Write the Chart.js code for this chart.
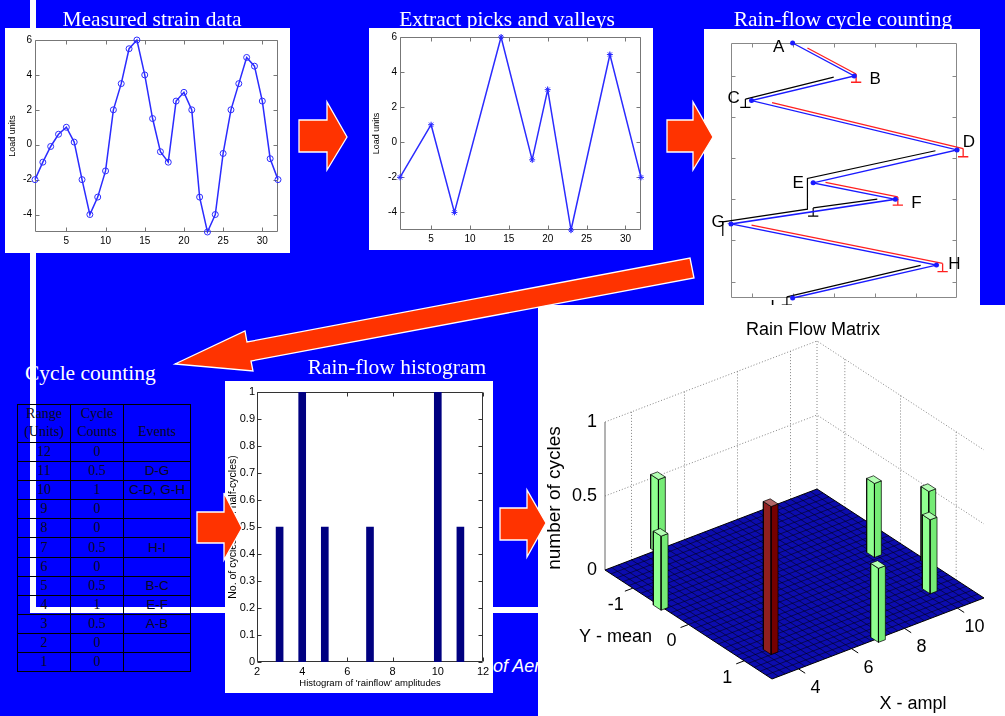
<!DOCTYPE html>
<html><head><meta charset="utf-8"><title>Rain-flow counting</title>
<script src="https://cdn.jsdelivr.net/npm/chart.js@4.4.1/dist/chart.umd.min.js"></script>
<style>
html,body{margin:0;padding:0}
body{width:1005px;height:716px;background:#0000ff;position:relative;overflow:hidden}
.blk{position:absolute;background:#fff}
.ttl{position:absolute;color:#fff;font-family:'Liberation Serif','Times New Roman',serif;font-size:21.5px;line-height:21.5px;white-space:nowrap}
.ctr{width:400px;text-align:center}
canvas{position:absolute;left:0;top:0}
.tl{position:absolute;background:#000}
.tc{position:absolute;text-align:center;font-family:'Liberation Serif','Times New Roman',serif;font-size:14px;color:#0a0a20;white-space:nowrap;overflow:hidden}
.tc.ev{font-family:'Liberation Sans Narrow','Liberation Sans',Arial,sans-serif;font-size:13.5px}
#aer{position:absolute;left:493px;top:657px;color:#fff;font:italic 18px 'Liberation Sans',Arial,sans-serif;line-height:18px;white-space:nowrap}
svg{position:absolute;left:0;top:0}
</style></head>
<body>
<div class="blk" style="left:30px;top:0;width:6px;height:613px"></div>
<div class="blk" style="left:30px;top:607px;width:508px;height:6px"></div>
<div id="aer">of Aerospace</div>

<div class="blk" style="left:5px;top:28px;width:285px;height:225px"><canvas id="c1" width="285" height="225"></canvas></div>
<div class="blk" style="left:369px;top:28px;width:284px;height:222px"><canvas id="c2" width="284" height="222"></canvas></div>
<div class="blk" style="left:704px;top:29px;width:276px;height:276px"><canvas id="c3" width="276" height="276"></canvas></div>
<div class="blk" style="left:538px;top:305px;width:467px;height:411px"><canvas id="c5" width="467" height="411"></canvas></div>
<div class="blk" style="left:225px;top:381px;width:268px;height:312px"><canvas id="c4" width="268" height="312"></canvas></div>

<div class="ttl ctr" style="left:-48px;top:9px">Measured strain data</div>
<div class="ttl ctr" style="left:307px;top:9px">Extract picks and valleys</div>
<div class="ttl ctr" style="left:643px;top:9px">Rain-flow cycle counting</div>
<div class="ttl" style="left:25px;top:363px">Cycle counting</div>
<div class="ttl ctr" style="left:197px;top:357px">Rain-flow histogram</div>

<div id="cyc"></div>

<svg width="1005" height="716" viewBox="0 0 1005 716">
<g fill="#ff3300" stroke="#ffffff" stroke-width="1.3" stroke-linejoin="miter">
<polygon points="299,120 327,120 327,102 347,137 327,170 327,152 299,152"/>
<polygon points="667,120 693,120 693,102 713,137 693,170 693,152 667,152"/>
<polygon points="197,512 224,512 224,493 242,528 224,560 224,543 197,543"/>
<polygon points="500,508 527,508 527,490 546,523 527,557 527,540 500,540"/>
<polygon points="690,258 694,278 251,361 253,371 175,364 245,331 247,342"/>
</g></svg>

<script>
// ================= DATA =================
const strainX = [1,2,3,4,5,6,7,8,9,10,11,12,13,14,15,16,17,18,19,20,21,22,23,24,25,26,27,28,29,30,31,32];
const strainY = [-2,-1,-0.1,0.6,1,0.15,-2,-4,-3,-1.5,2,3.5,5.5,6,4,1.5,-0.4,-1,2.5,3,2,-3,-5,-4,-0.5,2,3.5,5,4.5,2.5,-0.8,-2];
const peakX = [1,5,8,14,18,20,23,28,32];
const peakY = [-2,1,-4,6,-1,3,-5,5,-2];
const rfNames = ['A','B','C','D','E','F','G','H','I'];
const timeTicks = [5,10,15,20,25,30];
const loadTicks = [-4,-2,0,2,4,6];
const rfLoadTicks = [-4,-2,0,2,4];

const tableHeader = [['Range','(Units)'],['Cycle','Counts'],['','Events']];
const tableRange  = [12,11,10,9,8,7,6,5,4,3,2,1];
const tableCycles = [0,0.5,1,0,0,0.5,0,0.5,1,0.5,0,0];
const tableEvents = ['','D-G','C-D, G-H','','','H-I','','B-C','E-F','A-B','',''];

const histXTicks = [2,4,6,8,10,12];
const histYTicks = [0,0.1,0.2,0.3,0.4,0.5,0.6,0.7,0.8,0.9,1];

const rfmAmpl   = [3,5,10,11,10,7,4];
const rfmMean   = [-0.5,-1.5,1,0.5,0,1.5,1];
const rfmCycles = [0.5,0.5,0.5,0.5,0.5,0.5,1];
const rfmAmplRange = [3,11];
const rfmMeanRange = [-1.5,1.5];
const rfmAmplTicks = [4,6,8,10];
const rfmMeanTicks = [-1,0,1];
const rfmCycleTicks = [0,0.5,1];

// ================= SETUP =================
Chart.defaults.font.family = "'Liberation Sans', Arial, sans-serif";
Chart.defaults.color = '#000';
Chart.defaults.animation = false;
Chart.defaults.plugins.legend.display = false;
Chart.defaults.plugins.tooltip.enabled = false;
const GAP = {x:null, y:null};

const matlabBox = {
  id:'matlabBox',
  beforeDatasetsDraw(chart, args, o){
    if (!o || !o.on) return;
    const {ctx, chartArea:a} = chart;
    const L = o.len || 4;
    const l = Math.round(a.left)+0.5, r = Math.round(a.right)-0.5, t = Math.round(a.top)+0.5, b = Math.round(a.bottom)-0.5;
    const xs = chart.scales.x, ys = chart.scales.y;
    ctx.save(); ctx.strokeStyle = o.color || '#666'; ctx.lineWidth = 1;
    ctx.beginPath(); ctx.rect(l, t, r-l, b-t);
    xs.ticks.forEach(tk => { const p = Math.round(xs.getPixelForValue(tk.value))+0.5; ctx.moveTo(p,b); ctx.lineTo(p,b-L); ctx.moveTo(p,t); ctx.lineTo(p,t+L); });
    ys.ticks.forEach(tk => { const p = Math.round(ys.getPixelForValue(tk.value))+0.5; ctx.moveTo(l,p); ctx.lineTo(l+L,p); ctx.moveTo(r,p); ctx.lineTo(r-L,p); });
    ctx.stroke(); ctx.restore();
  }
};
Chart.register(matlabBox);

function mscale(ticksArr, min, max, o){
  o = o || {};
  return {
    type:'linear', min:min, max:max, reverse:!!o.reverse, offset:false,
    grid:{display:false, drawTicks:false},
    border:{display:false},
    afterBuildTicks: s => { s.ticks = ticksArr.map(v => ({value:v})); },
    afterFit: s => { if (o.size != null) { if (s.isHorizontal()) s.height = o.size; else s.width = o.size; } },
    ticks:{display:o.labels !== false, autoSkip:false, maxRotation:0, minRotation:0, padding:(o.pad != null ? o.pad : 3), color:'#000', font:{size:o.fs || 10}, callback: v => String(v)},
    title: o.title ? {display:true, text:o.title, color:'#000', font:{size:o.tfs || 9}, padding:o.tpad || {top:2, bottom:0}} : {display:false}
  };
}

// ----- Panel 1: measured strain -----
new Chart(document.getElementById('c1'), {
  type:'scatter',
  data:{datasets:[{data:strainX.map((x,i)=>({x:x, y:strainY[i]})), showLine:true, borderColor:'#2b2bff', borderWidth:1.5,
    pointStyle:'circle', pointRadius:3, pointBorderColor:'#2b2bff', pointBackgroundColor:'rgba(255,255,255,0)', pointBorderWidth:1, clip:false}]},
  options:{responsive:false, layout:{padding:{left:0, top:12, right:12, bottom:0}},
    scales:{x:mscale(timeTicks,1,32,{size:21}), y:mscale(loadTicks,-5,6,{size:30, title:'Load units'})},
    plugins:{matlabBox:{on:true, color:'#777'}}}
});

// ----- Panel 2: peaks & valleys -----
new Chart(document.getElementById('c2'), {
  type:'scatter',
  data:{datasets:[{data:peakX.map((x,i)=>({x:x, y:peakY[i]})), showLine:true, borderColor:'#2b2bff', borderWidth:1.5,
    pointStyle:'star', pointRadius:3, pointBorderColor:'#2b2bff', pointBorderWidth:1, clip:false}]},
  options:{responsive:false, layout:{padding:{left:0, top:9, right:12, bottom:0}},
    scales:{x:mscale(timeTicks,1,32,{size:20}), y:mscale(loadTicks,-5,6,{size:31, title:'Load units'})},
    plugins:{matlabBox:{on:true, color:'#777'}}}
});

// ----- Panel 3: rain-flow cycle counting -----
const rfPts = peakX.map((t,i)=>({x:peakY[i], y:t}));
function along(i,j,f,off){ return {x:peakY[i]+(peakY[j]-peakY[i])*f, y:peakX[i]+(peakX[j]-peakX[i])*f+off}; }
function stopper(p){ return [{x:p.x,y:p.y},{x:p.x,y:p.y+1.0},GAP,{x:p.x-0.25,y:p.y+1.0},{x:p.x+0.25,y:p.y+1.0},GAP]; }
const redSpec = [[0,1,0.24],[2,3,0.1],[4,5,0.15],[6,7,0.1]];
const red = [], redStops = [];
redSpec.forEach(([i,j,f0]) => { const a = along(i,j,f0,-0.35), b = along(i,j,1.03,-0.35); red.push(a,b,GAP); redStops.push(...stopper(b)); });
const blk = [], blkStops = [];
let rfArrow = [];
(function(){
  let a = along(1,2,0.2,-0.45), b = along(1,2,1.06,-0.36); blk.push(a,b,GAP); blkStops.push(...stopper(b));
  a = along(3,4,0.15,-0.5); const corner = along(3,4,1.04,-0.7);
  const fE = (corner.x-peakY[5])/(peakY[6]-peakY[5]);
  const drop = {x:corner.x, y:along(5,6,fE,-0.4).y};
  const gEnd = along(5,6,1.05,-0.4);
  blk.push(a,corner,drop,gEnd,GAP);
  rfArrow = [gEnd, {x:gEnd.x, y:gEnd.y+1.7}];
  a = along(5,6,0.11,-0.35); b = along(5,6,0.5,-0.45); blk.push(a,b,GAP); blkStops.push(...stopper(b));
  a = along(7,8,0.11,-0.4); b = along(7,8,1.04,-0.3); blk.push(a,b,GAP); blkStops.push(...stopper(b));
})();
const rfLabelOffsets = [[-14,4],[21,3],[-18,-2],[12,-8],[-15,0],[21,4],[-13,-2],[18,-1],[-20,9]];
const rfLabels = {id:'rfLabels', afterDatasetsDraw(chart){
  const {ctx} = chart, sx = chart.scales.x, sy = chart.scales.y;
  ctx.save(); ctx.fillStyle = '#000'; ctx.font = "17px 'Liberation Sans', Arial, sans-serif";
  ctx.textAlign = 'center'; ctx.textBaseline = 'middle';
  rfNames.forEach((n,i) => { ctx.fillText(n, sx.getPixelForValue(peakY[i]) + rfLabelOffsets[i][0], sy.getPixelForValue(peakX[i]) + rfLabelOffsets[i][1]); });
  ctx.restore();
}};
function ln(data, color, w, extra){ return Object.assign({data:data, showLine:true, borderColor:color, borderWidth:w, pointRadius:0, clip:false}, extra || {}); }
new Chart(document.getElementById('c3'), {
  type:'scatter',
  data:{datasets:[
    ln(rfPts, '#1a1aff', 1.4, {pointRadius:1.8, pointBackgroundColor:'#1a1aff', pointBorderColor:'#1a1aff'}),
    ln(red, '#ff2020', 1.3), ln(redStops, '#ff2020', 1.3),
    ln(blk, '#000', 1.2), ln(blkStops, '#000', 1.2),
    ln(rfArrow, '#000', 1.2, {pointRadius:[0,3.5], pointStyle:'triangle', pointRotation:180, pointBackgroundColor:'#000', pointBorderColor:'#000'})
  ]},
  options:{responsive:false, layout:{padding:{left:27, top:14, right:23, bottom:7}},
    scales:{x:mscale(rfLoadTicks,-5,6,{size:0, labels:false}), y:mscale(timeTicks,1,32,{size:0, labels:false, reverse:true})},
    plugins:{matlabBox:{on:true, color:'#888'}}},
  plugins:[rfLabels]
});

// ----- Table (absolute cells + crisp grid lines) -----
(function(){
  const host = document.getElementById('cyc');
  const colX = [17,70,123,190], top = 404, headBottom = 442, bottom = 671;
  const nR = tableRange.length, rowH = (bottom - headBottom) / nR;
  const rowY = [top, headBottom]; for (let i=1;i<=nR;i++) rowY.push(Math.round(headBottom + i*rowH));
  let h = '';
  rowY.forEach(y => { h += '<div class="tl" style="left:'+colX[0]+'px;top:'+y+'px;width:'+(colX[3]-colX[0]+1)+'px;height:1px"></div>'; });
  colX.forEach(x => { h += '<div class="tl" style="left:'+x+'px;top:'+top+'px;width:1px;height:'+(bottom-top+1)+'px"></div>'; });
  const cell = (c, y0, y1, txt, cls, lh) => '<div class="tc '+(cls||'')+'" style="left:'+(colX[c]+1)+'px;width:'+(colX[c+1]-colX[c]-1)+'px;top:'+(y0+1)+'px;height:'+(y1-y0-1)+'px;line-height:'+(lh||(y1-y0-1))+'px">'+txt+'</div>';
  tableHeader.forEach((lines,c) => { h += cell(c, top, headBottom, lines.join('<br>'), '', 18); });
  tableRange.forEach((r,i) => {
    const y0 = rowY[i+1], y1 = rowY[i+2];
    h += cell(0, y0, y1, String(r)); h += cell(1, y0, y1, String(tableCycles[i])); h += cell(2, y0, y1, tableEvents[i], 'ev');
  });
  host.innerHTML = h;
})();

// ----- Histogram -----
const histData = tableRange.map((r,i)=>({x:r, y:tableCycles[i]})).filter(p=>p.y>0).sort((a,b)=>a.x-b.x);
new Chart(document.getElementById('c4'), {
  type:'bar',
  data:{datasets:[{data:histData, backgroundColor:'#000080', barThickness:7, borderWidth:0}]},
  options:{responsive:false, layout:{padding:{left:0, top:11, right:10, bottom:0}},
    scales:{
      x:mscale(histXTicks,2,12,{size:31, fs:11, title:"Histogram of 'rainflow' amplitudes", tfs:9.5, tpad:{top:1,bottom:4}}),
      y:mscale(histYTicks,0,1,{size:32, fs:11, pad:2, title:'No. of cycles (from half-cycles)', tfs:10.5})
    },
    plugins:{matlabBox:{on:true, color:'#333'}}}
});

// ----- 3D Rain Flow Matrix -----
const RFM = {o:{x:67, y:265}, ex:{x:26.5, y:-10.125}, ey:{x:55.67, y:36.33}, ez:148};
function proj(X,Y,Z){ const a = X-rfmAmplRange[0], b = Y-rfmMeanRange[0]; return {x:RFM.o.x + a*RFM.ex.x + b*RFM.ey.x, y:RFM.o.y + a*RFM.ex.y + b*RFM.ey.y - Z*RFM.ez}; }
function jet(v){ const c = t => Math.max(0, Math.min(1, t)); return [c(1.5-Math.abs(4*v-3)), c(1.5-Math.abs(4*v-2)), c(1.5-Math.abs(4*v-1))]; }
function shade(c,k){ return 'rgb(' + c.map(v => Math.round(Math.min(255, v*255*k))).join(',') + ')'; }
function tint(c,k){ return 'rgb(' + c.map(v => Math.round(v*255 + (255-v*255)*k)).join(',') + ')'; }
const ds3 = [];
function lineDs(pts, style){ ds3.push(Object.assign({data:pts, showLine:true, pointRadius:0, clip:false, fill:false, borderWidth:1}, style)); }
function polyDs(pts, fc, ec, w){ ds3.push({data:pts.concat([pts[0]]), showLine:true, pointRadius:0, clip:false, fill:'shape', backgroundColor:fc, borderColor:ec, borderWidth:w, borderJoinStyle:'miter'}); }
(function(){
  const [ax0,ax1] = rfmAmplRange, [my0,my1] = rfmMeanRange, zTop = rfmCycleTicks[rfmCycleTicks.length-1];
  const w = [];
  rfmAmplTicks.concat([ax1]).forEach(X => { w.push(proj(X,my0,0), proj(X,my0,zTop), GAP); });
  rfmMeanTicks.forEach(Y => { w.push(proj(ax1,Y,0), proj(ax1,Y,zTop), GAP); });
  rfmCycleTicks.filter(z => z>0).forEach(z => { w.push(proj(ax0,my0,z), proj(ax1,my0,z), proj(ax1,my1,z), GAP); });
  lineDs(w, {borderColor:'#777', borderWidth:0.9, borderDash:[1,2]});
  lineDs([proj(ax0,my0,0), proj(ax0,my0,zTop)], {borderColor:'#666', borderWidth:1});
  polyDs([proj(ax0,my0,0), proj(ax1,my0,0), proj(ax1,my1,0), proj(ax0,my1,0)], '#0c0cae', '#000', 1);
  const g = [], nX = 32, nY = 28;
  for (let i=1;i<nX;i++){ const X = ax0+(ax1-ax0)*i/nX; g.push(proj(X,my0,0), proj(X,my1,0), GAP); }
  for (let j=1;j<nY;j++){ const Y = my0+(my1-my0)*j/nY; g.push(proj(ax0,Y,0), proj(ax1,Y,0), GAP); }
  lineDs(g, {borderColor:'rgba(0,0,0,0.85)', borderWidth:0.6});
  const et = [];
  rfmAmplTicks.forEach(X => { et.push(proj(X,my1,0), proj(X,my1+0.12,0), GAP); });
  rfmMeanTicks.forEach(Y => { et.push(proj(ax0,Y,0), proj(ax0-0.3,Y,0), GAP); });
  lineDs(et, {borderColor:'#000', borderWidth:1});
  const HX = 0.13, HY = 0.07;
  const bars = rfmAmpl.map((X,i)=>({X:X, Y:rfmMean[i], h:rfmCycles[i]})).sort((a,b)=>proj(a.X,a.Y,0).y - proj(b.X,b.Y,0).y);
  bars.forEach(b => {
    const c = jet(b.h/zTop);
    const x0 = b.X-HX, x1 = b.X+HX, y0 = b.Y-HY, y1 = b.Y+HY;
    polyDs([proj(x0,y0,0), proj(x0,y1,0), proj(x0,y1,b.h), proj(x0,y0,b.h)], tint(c,0.12), '#000', 0.7);
    polyDs([proj(x0,y1,0), proj(x1,y1,0), proj(x1,y1,b.h), proj(x0,y1,b.h)], shade(c,0.92), '#000', 0.7);
    polyDs([proj(x0,y0,b.h), proj(x0,y1,b.h), proj(x1,y1,b.h), proj(x1,y0,b.h)], tint(c,0.4), '#000', 0.7);
  });
  ds3.forEach((d,i) => { d.order = ds3.length - i; });
})();
const rfmText = {id:'rfmText', afterDatasetsDraw(chart){
  const {ctx} = chart, sx = chart.scales.x, sy = chart.scales.y;
  const pix = p => ({x:sx.getPixelForValue(p.x), y:sy.getPixelForValue(p.y)});
  const [ax0,ax1] = rfmAmplRange, [my0,my1] = rfmMeanRange;
  ctx.save(); ctx.fillStyle = '#000'; ctx.font = "18px 'Liberation Sans', Arial, sans-serif"; ctx.textBaseline = 'middle';
  let p = pix(proj(ax1,my0,1)); ctx.textAlign = 'center'; ctx.fillText('Rain Flow Matrix', p.x-4, p.y-11);
  ctx.textAlign = 'right';
  rfmCycleTicks.forEach(z => { const q = pix(proj(ax0,my0,z)); ctx.fillText(String(z), q.x-8, q.y); });
  ctx.textAlign = 'center';
  rfmAmplTicks.forEach(X => { const q = pix(proj(X,my1,0)); ctx.fillText(String(X), q.x+17, q.y+19); });
  rfmMeanTicks.forEach(Y => { const q = pix(proj(ax0,Y,0)); ctx.fillText(String(Y), q.x-17, q.y+17); });
  p = pix(proj((ax0+ax1)/2,my1,0)); ctx.fillText('X - ampl', p.x+35, p.y+66);
  p = pix(proj(ax0,(my0+my1)/2,0)); ctx.fillText('Y - mean', p.x-73, p.y+13);
  p = pix(proj(ax0,my0,0.5)); ctx.translate(p.x-50, p.y+2); ctx.rotate(-Math.PI/2); ctx.font = "19px 'Liberation Sans', Arial, sans-serif"; ctx.fillText('number of cycles', 0, 0);
  ctx.restore();
}};
new Chart(document.getElementById('c5'), {
  type:'scatter',
  data:{datasets:ds3},
  options:{responsive:false, layout:{padding:0},
    scales:{x:{type:'linear', min:0, max:467, display:false}, y:{type:'linear', min:0, max:411, reverse:true, display:false}}},
  plugins:[rfmText]
});
</script>
</body></html>
